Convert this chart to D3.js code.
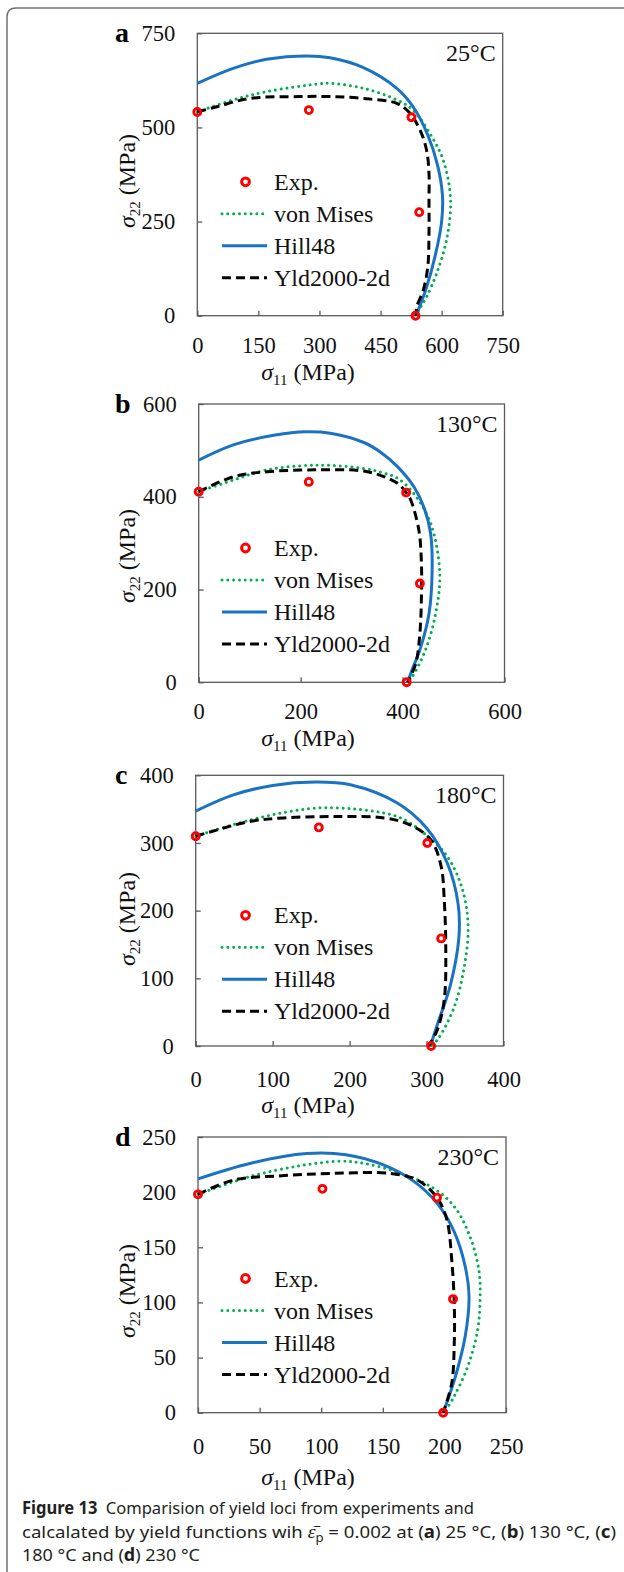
<!DOCTYPE html>
<html><head><meta charset="utf-8">
<script src="https://cdn.jsdelivr.net/npm/d3@7"></script>
<style>body{margin:0;background:#fff}svg{display:block}</style>
</head><body><svg id="chart" width="624" height="1572"></svg>
<script>
// ---------- data ----------
const panelLetters = ["a", "b", "c", "d"];
const temperatures = ["25°C", "130°C", "180°C", "230°C"];
const axisMax = [750, 600, 400, 250];
const ticksA = [0, 150, 300, 450, 600, 750];
const ticksYA = [0, 250, 500, 750];
const ticksB = [0, 200, 400, 600];
const ticksC = [0, 100, 200, 300, 400];
const ticksD = [0, 50, 100, 150, 200, 250];
const legendLabels = ["Exp.", "von Mises", "Hill48", "Yld2000-2d"];

// panel a (25 °C) : [sigma11, sigma22]
const expA = [[0, 541], [274, 546], [526, 527], [545, 275], [536, 0]];
const misesA = [[0, 541], [88, 573], [170, 595], [293, 615], [326, 617], [408, 604], [490, 573], [530, 546], [571, 484], [604, 413], [622, 307], [612, 201], [588, 113], [563, 50], [547, 20], [537, 0]];
const hillA = [[0, 617], [88, 657], [170, 681], [270, 690], [326, 685], [408, 659], [490, 604], [530, 555], [566, 480], [590, 400], [602, 320], [600, 250], [585, 163], [562, 72], [537, 0]];
const yldA = [[0, 541], [48, 555], [129, 577], [252, 582], [326, 582], [408, 577], [490, 564], [522, 538], [547, 493], [563, 440], [569, 378], [569, 307], [569, 219], [566, 130], [555, 68], [539, 24], [537, 0]];

// panel b (130 °C)
const expB = [[0, 411], [216, 432], [407, 409], [434, 213], [408, 0]];
const misesB = [[0, 411], [68, 436], [134, 458], [232, 468], [324, 461], [363, 451], [390, 440], [422, 407], [455, 343], [473, 235], [465, 149], [445, 70], [419, 12], [410, 0]];
const hillB = [[0, 479], [68, 512], [150, 533], [210, 540], [258, 537], [324, 517], [357, 496], [390, 465], [422, 422], [442, 377], [455, 321], [458, 240], [452, 149], [436, 77], [416, 19], [410, 0]];
const yldB = [[0, 411], [68, 443], [134, 454], [232, 458], [331, 454], [390, 429], [407, 409], [416, 393], [432, 328], [437, 257], [437, 185], [434, 106], [426, 41], [410, 0]];

// panel c (180 °C)
const expC = [[0, 310], [160, 323], [301, 300], [319, 159], [306, 0]];
const misesC = [[0, 310], [71, 334], [136, 349], [180, 352], [262, 339], [297, 314], [327, 280], [347, 230], [354, 176], [349, 117], [336, 58], [314, 9], [305, 0]];
const hillC = [[0, 347], [49, 371], [100, 385], [156, 390], [201, 386], [262, 359], [300, 322], [327, 270], [341, 210], [342, 160], [331, 90], [315, 35], [305, 0]];
const yldC = [[0, 310], [27, 319], [71, 332], [114, 337], [180, 339], [245, 337], [280, 326], [306, 304], [319, 265], [323, 216], [325, 142], [323, 68], [314, 24], [303, 0]];

// panel d (230 °C)
const expD = [[0, 198], [101, 203], [194, 195], [207, 103], [199, 0]];
const misesD = [[0, 198], [42, 214], [83, 224], [116, 228], [135, 226], [162, 218], [189, 205], [208, 187], [221, 159], [228, 129], [229, 105], [227, 75], [219, 42], [208, 15], [200, 0]];
const hillD = [[0, 212], [42, 226], [88, 235], [120, 234], [150, 225], [175, 210], [194, 190], [208, 164], [217, 132], [220, 105], [217, 70], [209, 33], [199, 0]];
const yldD = [[0, 198], [29, 211], [70, 215], [110, 217], [156, 217], [178, 211], [194, 195], [202, 175], [206, 138], [208, 99], [208, 63], [206, 27], [199, 0]];

const xTickSets = [ticksA, ticksB, ticksC, ticksD];
const yTickSets = [ticksYA, ticksB, ticksC, ticksD];
const expSets = [expA, expB, expC, expD];
const misesSets = [misesA, misesB, misesC, misesD];
const hillSets = [hillA, hillB, hillC, hillD];
const yldSets = [yldA, yldB, yldC, yldD];

// ---------- layout (positions only) ----------
const layout = [
  {left: 197.3, top: 33.3, w: 305.4, h: 282.4, tickLab: 37, xTitle: 64, yTitleMid: 181, legTop: 148.5},
  {left: 198.7, top: 404, w: 305.8, h: 278.3, tickLab: 37, xTitle: 63.5, yTitleMid: 556, legTop: 144},
  {left: 195.7, top: 775.3, w: 307.8, h: 270.7, tickLab: 41, xTitle: 67, yTitleMid: 919, legTop: 140},
  {left: 198, top: 1137, w: 308, h: 275.7, tickLab: 41, xTitle: 72, yTitleMid: 1291, legTop: 141.5}
];

const SERIF = "'Liberation Serif','Times New Roman',serif";
const SANS = "'Noto Sans','Open Sans',sans-serif";
const FRAME = "#5a5a5a";
const C_MISES = "#00b050", C_HILL = "#1a73c2", C_YLD = "#000", C_EXP = "#ff0000";

const svg = d3.select("#chart");
svg.append("rect").attr("width", 624).attr("height", 1572).attr("fill", "#fff");

// outer figure frame
svg.append("path").attr("d", "M7,1572 V17 Q7,8 16,8 H624")
  .attr("fill", "none").attr("stroke", "#707070").attr("stroke-width", 1.5);

const styles = [
  {color: C_MISES, width: 3, dash: "0.01 5.8", cap: "round"},
  {color: C_HILL, width: 3, dash: null, cap: "butt"},
  {color: C_YLD, width: 3, dash: "9 5", cap: "butt"}
];

panelLetters.forEach((letter, i) => {
  const L = layout[i];
  const max = axisMax[i];
  const x = d3.scaleLinear().domain([0, max]).range([L.left, L.left + L.w]);
  const y = d3.scaleLinear().domain([0, max]).range([L.top + L.h, L.top]);
  const g = svg.append("g");

  // axes with inward ticks
  const xa = g.append("g").attr("transform", `translate(0,${L.top + L.h})`)
    .call(d3.axisBottom(x).tickValues(xTickSets[i]).tickSize(-5).tickFormat(d3.format("d")));
  xa.select(".domain").remove();
  xa.selectAll("line").attr("stroke", FRAME).attr("stroke-width", 1.3);
  xa.selectAll("text").attr("y", L.tickLab).attr("dy", 0)
    .attr("font-family", SERIF).attr("font-size", 22.5).attr("fill", "#111");

  const ya = g.append("g").attr("transform", `translate(${L.left},0)`)
    .call(d3.axisLeft(y).tickValues(yTickSets[i]).tickSize(-5).tickPadding(22).tickFormat(d3.format("d")));
  ya.select(".domain").remove();
  ya.selectAll("line").attr("stroke", FRAME).attr("stroke-width", 1.3);
  ya.selectAll("text").attr("font-family", SERIF).attr("font-size", 22.5).attr("fill", "#111");

  // frame
  g.append("rect").attr("x", L.left).attr("y", L.top).attr("width", L.w).attr("height", L.h)
    .attr("fill", "none").attr("stroke", FRAME).attr("stroke-width", 1.3);

  // curves
  const line = d3.line().x(d => x(d[0])).y(d => y(d[1])).curve(d3.curveCatmullRom.alpha(0.5));
  [misesSets[i], hillSets[i], yldSets[i]].forEach((data, k) => {
    const s = styles[k];
    g.append("path").datum(data).attr("d", line)
      .attr("fill", "none").attr("stroke", s.color).attr("stroke-width", s.width)
      .attr("stroke-dasharray", s.dash).attr("stroke-linecap", s.cap);
  });

  // experimental points
  g.selectAll("circle.exp").data(expSets[i]).join("circle").attr("class", "exp")
    .attr("cx", d => x(d[0])).attr("cy", d => y(d[1])).attr("r", 3.5)
    .attr("fill", "none").attr("stroke", C_EXP).attr("stroke-width", 2.9);

  // legend
  legendLabels.forEach((lab, k) => {
    const ly = L.top + L.legTop + k * 32;
    if (k === 0) {
      g.append("circle").attr("cx", 245.5).attr("cy", ly).attr("r", 3.9)
        .attr("fill", "#fff").attr("stroke", C_EXP).attr("stroke-width", 3);
    } else {
      const s = styles[k - 1];
      g.append("line").attr("x1", 222).attr("x2", 267).attr("y1", ly).attr("y2", ly)
        .attr("stroke", s.color).attr("stroke-width", s.width)
        .attr("stroke-dasharray", s.dash).attr("stroke-linecap", s.cap);
    }
    g.append("text").attr("x", 274).attr("y", ly + 8).text(lab)
      .attr("font-family", SERIF).attr("font-size", 24).attr("fill", "#111");
  });

  // temperature
  g.append("text").attr("x", L.left + L.w - 7).attr("y", L.top + 28).attr("text-anchor", "end")
    .attr("font-family", SERIF).attr("font-size", 24).attr("fill", "#111").text(temperatures[i]);

  // panel letter
  g.append("text").attr("x", 115).attr("y", L.top + 8.5)
    .attr("font-family", SERIF).attr("font-size", 28).attr("font-weight", "bold").attr("fill", "#000").text(letter);

  // x title
  const xt = g.append("text").attr("x", 308).attr("y", L.top + L.h + L.xTitle).attr("text-anchor", "middle")
    .attr("font-family", SERIF).attr("font-size", 24).attr("fill", "#111");
  xt.append("tspan").attr("font-style", "italic").text("σ");
  xt.append("tspan").attr("font-size", 15).attr("dy", 5).text("11");
  xt.append("tspan").attr("dy", -5).text(" (MPa)");

  // y title
  const yt = g.append("text").attr("transform", `translate(135,${L.yTitleMid}) rotate(-90)`).attr("text-anchor", "middle")
    .attr("font-family", SERIF).attr("font-size", 24).attr("fill", "#111");
  yt.append("tspan").attr("font-style", "italic").text("σ");
  yt.append("tspan").attr("font-size", 15).attr("dy", 5).text("22");
  yt.append("tspan").attr("dy", -5).text(" (MPa)");
});

// ---------- caption ----------
const cap = svg.append("g").attr("font-family", SANS).attr("font-size", 17).attr("fill", "#231f20");
const l1 = cap.append("text").attr("x", 22).attr("y", 1514).attr("textLength", 452).attr("lengthAdjust", "spacingAndGlyphs");
l1.append("tspan").attr("font-weight", "bold").text("Figure 13");
l1.append("tspan").text("\u2002Comparision of yield loci from experiments and");

const l2 = cap.append("text").attr("x", 22).attr("y", 1537.5).attr("textLength", 594).attr("lengthAdjust", "spacingAndGlyphs");
l2.append("tspan").text("calcalated by yield functions wih ");
l2.append("tspan").attr("font-family", SERIF).attr("font-style", "italic").attr("font-size", 18).text("ε\u0304");
l2.append("tspan").attr("font-size", 12).attr("dy", 4).text("p");
l2.append("tspan").attr("dy", -4).text(" = 0.002 at (");
l2.append("tspan").attr("font-weight", "bold").text("a");
l2.append("tspan").text(") 25 °C, (");
l2.append("tspan").attr("font-weight", "bold").text("b");
l2.append("tspan").text(") 130 °C, (");
l2.append("tspan").attr("font-weight", "bold").text("c");
l2.append("tspan").text(")");

const l3 = cap.append("text").attr("x", 22).attr("y", 1561).attr("textLength", 178).attr("lengthAdjust", "spacingAndGlyphs");
l3.append("tspan").text("180 °C and (");
l3.append("tspan").attr("font-weight", "bold").text("d");
l3.append("tspan").text(") 230 °C");
</script>
</body></html>
